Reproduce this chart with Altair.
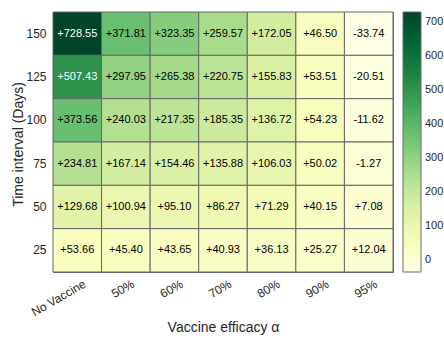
import altair as alt
import pandas as pd

efficacy = ["No Vaccine", "50%", "60%", "70%", "80%", "90%", "95%"]
intervals = [150, 125, 100, 75, 50, 25]
values = [
    [728.55, 371.81, 323.35, 259.57, 172.05, 46.50, -33.74],
    [507.43, 297.95, 265.38, 220.75, 155.83, 53.51, -20.51],
    [373.56, 240.03, 217.35, 185.35, 136.72, 54.23, -11.62],
    [234.81, 167.14, 154.46, 135.88, 106.03, 50.02, -1.27],
    [129.68, 100.94, 95.10, 86.27, 71.29, 40.15, 7.08],
    [53.66, 45.40, 43.65, 40.93, 36.13, 25.27, 12.04],
]
legend_ticks = [0, 100, 200, 300, 400, 500, 600, 700]

rows = []
for i, d in enumerate(intervals):
    for j, e in enumerate(efficacy):
        v = values[i][j]
        rows.append({"eff": e, "days": d, "v": v, "label": f"{v:+.2f}"})
df = pd.DataFrame(rows)

vmin = min(min(r) for r in values)
vmax = max(max(r) for r in values)

YLGN = ["#ffffe5", "#f7fcb9", "#d9f0a3", "#addd8e", "#78c679",
        "#41ab5d", "#238443", "#006837", "#004529"]

FONT = "Liberation Sans"
TXT = "#262626"

base = alt.Chart(df).encode(
    x=alt.X("eff:N", sort=efficacy,
            scale=alt.Scale(paddingInner=0, paddingOuter=0),
            axis=alt.Axis(title="Vaccine efficacy α", labelAngle=-30, labelAlign="right",
                          labelBaseline="top", labelPadding=6, labelOffset=5,
                          labelFontSize=12,
                          titleX=170, titleY=59, titleBaseline="alphabetic",
                          titleAnchor="middle", titleFontSize=14)),
    y=alt.Y("days:O", sort=intervals,
            scale=alt.Scale(paddingInner=0, paddingOuter=0),
            axis=alt.Axis(title="Time interval (Days)", labelPadding=7, labelFontSize=12,
                          titleFontSize=14, titleX=-35, titleY=132, titleAngle=270,
                          titleAlign="center", titleBaseline="middle")),
)

rect = base.mark_rect(stroke="#666666", strokeWidth=1).encode(
    color=alt.Color("v:Q",
                    scale=alt.Scale(range=YLGN, domain=[vmin, vmax], interpolate="rgb"),
                    legend=alt.Legend(title=None, orient="none", legendX=350, legendY=0,
                                      direction="vertical", gradientLength=260,
                                      gradientThickness=18, values=legend_ticks,
                                      labelFontSize=11, labelColor=TXT, labelFont=FONT,
                                      labelOffset=4, gradientStrokeColor="#6a6a6a",
                                      gradientStrokeWidth=1))
)

text = base.mark_text(fontSize=11, font=FONT).encode(
    text="label:N",
    color=alt.condition(alt.datum.v > 450, alt.value("white"), alt.value("black")),
)

chart = (rect + text).properties(
    width=340, height=260,
    autosize=alt.AutoSizeParams(type="none"),
    padding={"left": 53, "top": 12, "right": 51, "bottom": 66},
    background="white",
).configure_view(stroke="#666666", strokeWidth=1).configure_axis(
    domain=False, ticks=False, labelColor=TXT, titleColor=TXT, labelFont=FONT,
    titleFont=FONT, titleFontWeight="normal", grid=False,
)

chart.save("out.html", embed_options={"renderer": "svg", "actions": False})
